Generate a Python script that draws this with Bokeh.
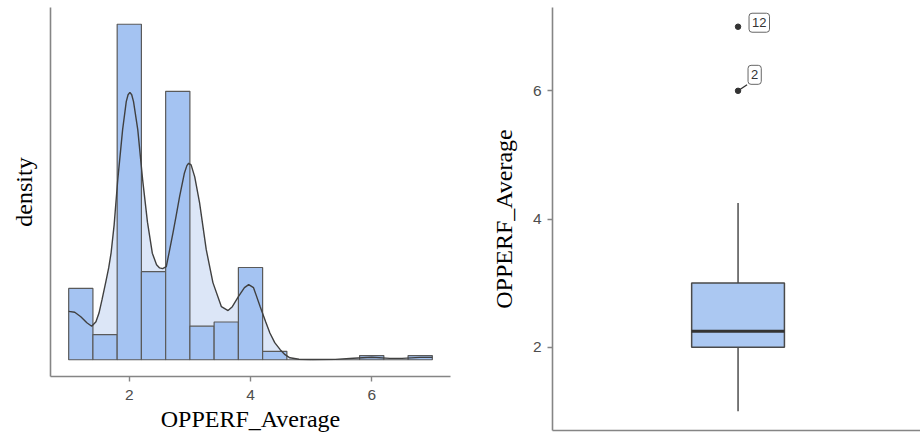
from bokeh.plotting import figure
from bokeh.layouts import row, column
from bokeh.models import Range1d, FixedTicker, Label
from bokeh.embed import file_html
from bokeh.resources import INLINE

# ---------------- data ----------------
bin_edges = [1.0, 1.4, 1.8, 2.2, 2.6, 3.0, 3.4, 3.8, 4.2, 4.6, 5.0, 5.4, 5.8, 6.2, 6.6, 7.0]
bin_counts = [17, 6, 80, 21, 64, 8, 9, 22, 2, 0, 0, 0, 1, 0, 1]

kde_x = [1.00, 1.10, 1.20, 1.30, 1.38, 1.45, 1.50, 1.55, 1.61, 1.66, 1.70, 1.75, 1.81, 1.89,
         1.95, 1.98, 2.01, 2.04, 2.07, 2.14, 2.22, 2.30, 2.38, 2.45, 2.50, 2.55, 2.61, 2.66,
         2.72, 2.77, 2.83, 2.91, 2.95, 2.98, 3.02, 3.08, 3.16, 3.27, 3.38, 3.52, 3.63, 3.70,
         3.80, 3.90, 3.97, 4.05, 4.16, 4.25, 4.32, 4.40, 4.49, 4.57, 4.65, 4.80, 5.00, 5.40,
         5.70, 6.00, 6.30, 6.50, 6.80, 7.00]
kde_y = [0.1247, 0.1226, 0.111, 0.0955, 0.0865, 0.098, 0.1205, 0.155, 0.199, 0.237, 0.276,
         0.348, 0.465, 0.594, 0.666, 0.684, 0.690, 0.684, 0.666, 0.594, 0.465, 0.355, 0.275,
         0.245, 0.237, 0.235, 0.240, 0.279, 0.327, 0.369, 0.421, 0.482, 0.501, 0.507, 0.503,
         0.472, 0.405, 0.284, 0.199, 0.137, 0.127, 0.137, 0.163, 0.186, 0.194, 0.186, 0.137,
         0.098, 0.069, 0.044, 0.026, 0.013, 0.005, 0.0013, 0.0005, 0.001, 0.004, 0.0065,
         0.0035, 0.0035, 0.0062, 0.0062]

box_stats = {"lower": 1.0, "q1": 2.0, "median": 2.25, "q3": 3.0, "upper": 4.25}
outlier_values = [7.0, 6.0]
outlier_ids = ["12", "2"]

x_ticks = [2, 4, 6]
y_ticks = [2, 4, 6]
x_title = "OPPERF_Average"

# ---------------- styles ----------------
BAR_FILL = "#A4C3F2"
KDE_FILL = "#DCE6F7"
BOX_FILL = "#ABC8F2"
DARK = "#404040"
AXIS = "#858585"
TICK_TXT = "#4d4d4d"
SERIF = "Liberation Serif"
SANS = "Liberation Sans"

def style_axes(p):
    p.xgrid.visible = False
    p.ygrid.visible = False
    p.outline_line_color = None
    p.background_fill_color = "white"
    p.border_fill_color = "white"
    for ax in p.axis:
        ax.axis_line_color = AXIS
        ax.axis_line_width = 1.6
        ax.major_tick_line_color = AXIS
        ax.major_tick_line_width = 1.4
        ax.major_tick_out = 5
        ax.major_tick_in = 0
        ax.minor_tick_line_color = None
        ax.major_label_text_color = TICK_TXT
        ax.major_label_text_font = SANS
        ax.major_label_text_font_size = "15.5px"
        ax.axis_label_text_font = SERIF
        ax.axis_label_text_font_size = "24px"
        ax.axis_label_text_font_style = "normal"
        ax.axis_label_text_color = "black"

# ---------------- left: histogram + density ----------------
n_total = sum(bin_counts)
bin_w = bin_edges[1] - bin_edges[0]
bin_density = [c / (n_total * bin_w) for c in bin_counts]
dmax = max(max(bin_density), max(kde_y))
x_lo, x_hi = bin_edges[0], bin_edges[-1]
x_pad = 0.05 * (x_hi - x_lo)

p1 = figure(width=460, height=439, output_backend="svg", toolbar_location=None,
            x_range=Range1d(x_lo - x_pad, x_hi + x_pad),
            y_range=Range1d(-0.05 * dmax, 1.05 * dmax),
            min_border_left=50, min_border_right=10, min_border_top=7, min_border_bottom=63)

p1.varea(x=kde_x, y1=0, y2=kde_y, fill_color=KDE_FILL, fill_alpha=1.0)
p1.quad(left=bin_edges[:-1], right=bin_edges[1:], bottom=0, top=bin_density,
        fill_color=BAR_FILL, line_color="#5a5a5a", line_width=1.2)
p1.line(x=kde_x, y=kde_y, line_color=DARK, line_width=1.4)

style_axes(p1)
p1.xaxis.ticker = FixedTicker(ticks=x_ticks)
p1.xaxis.axis_label = x_title
p1.xaxis.major_label_standoff = 8
p1.xaxis.axis_label_standoff = 3
p1.yaxis.ticker = FixedTicker(ticks=[])
p1.yaxis.axis_label = "density"
p1.yaxis.major_tick_out = 0
p1.yaxis.major_label_standoff = 0
p1.yaxis.axis_label_standoff = 14

# ---------------- right: boxplot ----------------
y_lo = min([box_stats["lower"]] + outlier_values)
y_hi = max([box_stats["upper"]] + outlier_values)
y_pad = 0.05 * (y_hi - y_lo)
xc = 1.0
half_w = 0.15

p2 = figure(width=460, height=439, output_backend="svg", toolbar_location=None,
            x_range=Range1d(0.4, 1.59), y_range=Range1d(y_lo - y_pad, y_hi + y_pad),
            min_border_left=92, min_border_right=0, min_border_top=7, min_border_bottom=9)

p2.segment(x0=[xc, xc], y0=[box_stats["q3"], box_stats["q1"]],
           x1=[xc, xc], y1=[box_stats["upper"], box_stats["lower"]],
           line_color="#333333", line_width=1.3)
p2.quad(left=[xc - half_w], right=[xc + half_w], bottom=[box_stats["q1"]], top=[box_stats["q3"]],
        fill_color=BOX_FILL, line_color="#4a4a4a", line_width=1.5)
p2.segment(x0=[xc - half_w], x1=[xc + half_w], y0=[box_stats["median"]], y1=[box_stats["median"]],
           line_color="#333333", line_width=3)

# leader line for the label that is pushed away from its point
frame_w = 460 - 92
frame_h = 439 - 7 - 9
ux = (1.59 - 0.4) / frame_w
uy = ((y_hi + y_pad) - (y_lo - y_pad)) / frame_h
label_dx = [11, 10]
label_dy = [4, 16]
p2.segment(x0=[xc], y0=[outlier_values[1]],
           x1=[xc + 9 * ux], y1=[outlier_values[1] + 6 * uy],
           line_color="#333333", line_width=1.3)

p2.scatter(x=[xc] * len(outlier_values), y=outlier_values, size=5.5, color="#333333")

for val, tid, dx, dy in zip(outlier_values, outlier_ids, label_dx, label_dy):
    p2.add_layout(Label(x=xc, y=val, text=tid, x_offset=dx, y_offset=dy,
                        text_font=SANS, text_font_size="13px", text_color="#333333",
                        text_align="left", text_baseline="middle",
                        background_fill_color="white", border_line_color="#666666",
                        border_line_width=1, border_radius=3, padding=(3, 5)))

style_axes(p2)
p2.yaxis.ticker = FixedTicker(ticks=y_ticks)
p2.yaxis.axis_label = x_title
p2.yaxis.major_label_standoff = 6
p2.yaxis.axis_label_standoff = 13
p2.xaxis.ticker = FixedTicker(ticks=[])
p2.xaxis.major_tick_out = 0
p2.xaxis.major_label_standoff = 0

layout = row(column(p1), column(p2))
open("out.html", "w").write(file_html(layout, INLINE))
